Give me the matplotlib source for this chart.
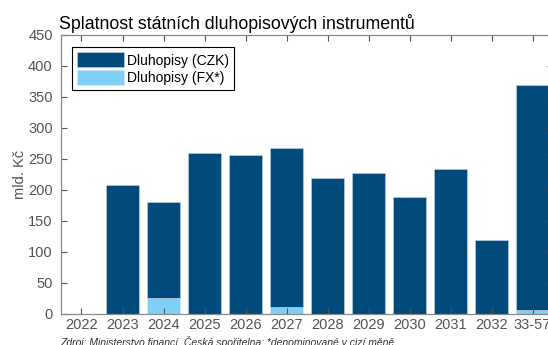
import matplotlib.pyplot as plt
import numpy as np

plt.rcParams['font.family'] = ['Liberation Sans', 'DejaVu Sans']

years = ["2022", "2023", "2024", "2025", "2026", "2027", "2028",
         "2029", "2030", "2031", "2032", "33-57"]
fx = [0, 0, 25, 0, 0, 12, 0, 0, 0, 0, 0, 6]
czk = [0, 208, 155, 259, 257, 256, 219, 228, 188, 234, 120, 363]

dark_blue = "#004a7c"
light_blue = "#80cff4"
grey = "#555555"

fig = plt.figure(figsize=(5.48, 3.45), dpi=100)
ax = fig.add_axes([0.1113, 0.0899, 0.898, 0.809])

x = np.arange(len(years))
ax.bar(x, fx, width=0.8, color=light_blue, edgecolor="#d8ecf5", linewidth=0.4,
       label="Dluhopisy (FX*)")
ax.bar(x, czk, width=0.8, bottom=fx, color=dark_blue, edgecolor="#c8d8e4",
       linewidth=0.4, label="Dluhopisy (CZK)")

ax.set_xlim(-0.5, len(years) - 0.5)
ax.set_ylim(0, 450)
ax.set_yticks(range(0, 451, 50))
ax.set_xticks(x)
ax.set_xticklabels(years)

ax.tick_params(axis="both", direction="in", length=4, width=0.8,
               colors=grey, labelsize=10.5, labelcolor=grey,
               top=True, right=True)
ax.tick_params(axis="x", pad=3)
ax.tick_params(axis="y", pad=6)
for sp in ax.spines.values():
    sp.set_color("#888888")
    sp.set_linewidth(0.9)

ax.set_ylabel("mld. Kč", fontsize=10.5, color=grey, labelpad=1)
ax.set_title("Splatnost státních dluhopisových instrumentů", loc="left",
             fontsize=12.8, color="black", pad=4, x=-0.005)

handles, labels = ax.get_legend_handles_labels()
leg = ax.legend(handles[::-1], labels[::-1], loc="upper left",
                bbox_to_anchor=(0.022, 0.955), fontsize=10, fancybox=False,
                framealpha=1, edgecolor="black", handlelength=3.4,
                handleheight=1.3, handletextpad=0.2, borderpad=0.35,
                labelspacing=0.15, borderaxespad=0)
leg.get_frame().set_linewidth(0.8)

fig.text(0.11, 0.027, "Zdroj: Ministerstvo financí, Česká spořitelna; *denominované v cizí měně",
         fontsize=7.5, style="italic", color="#333333", va="top")

fig.savefig("out.png", dpi=100)
